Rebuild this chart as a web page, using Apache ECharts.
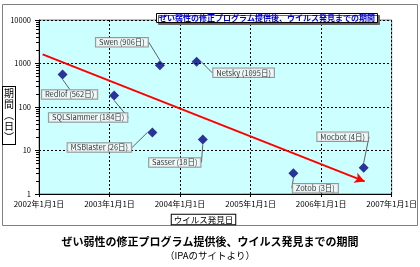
<!DOCTYPE html>
<html><head><meta charset="utf-8">
<script src="https://cdn.jsdelivr.net/npm/echarts@6/dist/echarts.min.js"></script>
<style>html,body{margin:0;padding:0;background:#fff}#c{width:420px;height:267px}</style>
</head><body><div id="c"></div>
<script>
// ---- data ----
const virusNames = ['Redlof','SQLSlammer','Swen','Netsky','MSBlaster','Sasser','Zotob','Mocbot'];
const discoveryDates = ['2002-05-03','2003-01-25','2003-09-19','2004-03-27','2003-08-11','2004-04-28','2005-08-10','2006-08-09'];
const daysToDiscovery = [562,184,906,1095,26,18,3,4];
const trendStart = ['2002-01-20', 1625];
const trendEnd = ['2006-08-14', 1.95];
const thresholdValue = 35;
const thresholdLabel = '30日';
const xRange = ['2002-01-01','2007-01-01'];
const yRange = [1, 10000];
const chartTitle = 'ぜい弱性の修正プログラム提供後、ウイルス発見までの期間';
const sourceNote = '（IPAのサイトより）';
const xName = 'ウイルス発見日';
const yNameVertical = '期\n間\n︵\n日\n︶';
// label offsets (style)
const labelOffsets = [[7,20],[-26,22],[-38,-23],[47,11],[-53,15],[-28,23],[22,15],[-21,-31]];

const FONT = '"Noto Sans CJK JP", sans-serif';
const chart = echarts.init(document.getElementById('c'), null, {renderer:'canvas'});
const scatterData = virusNames.map((n,i)=>({name:n, value:[discoveryDates[i], daysToDiscovery[i]]}));
const fmtDate = v => { const d = new Date(v); return d.getFullYear()+'年'+(d.getMonth()+1)+'月'+d.getDate()+'日'; };

chart.setOption({
  animation:false,
  backgroundColor:'#fff',
  textStyle:{fontFamily:FONT},
  title:[
    {text:chartTitle, left:156, top:13, padding:[1,3,1,3],
     backgroundColor:'#fff', borderColor:'#000', borderWidth:1,
     shadowColor:'#666', shadowOffsetX:2, shadowOffsetY:2, shadowBlur:0,
     textStyle:{color:'#0000cc', fontSize:8, fontWeight:'bold', fontFamily:FONT}, z:10},
    {text:chartTitle, left:'center', top:236, padding:0,
     textStyle:{color:'#000', fontSize:11, fontWeight:'bold', fontFamily:FONT}},
    {text:sourceNote, left:'center', top:251, padding:0,
     textStyle:{color:'#000', fontSize:9.5, fontWeight:'normal', fontFamily:FONT}}
  ],
  grid:{left:39, right:28, top:20, bottom:73, show:true, backgroundColor:'#ccffff', borderColor:'#808080', borderWidth:1},
  xAxis:{type:'time', min:xRange[0], max:xRange[1], splitNumber:5,
    axisLine:{show:true, lineStyle:{color:'#000'}},
    axisTick:{show:true, length:3, lineStyle:{color:'#000'}},
    axisLabel:{formatter:fmtDate, color:'#000', fontSize:8, margin:6, showMinLabel:true, showMaxLabel:true, fontFamily:FONT, hideOverlap:false},
    splitLine:{show:true, lineStyle:{color:'#000', type:[2,2], width:1}}
  },
  yAxis:{type:'log', logBase:10, min:yRange[0], max:yRange[1],
    axisLine:{show:true, lineStyle:{color:'#000'}},
    axisTick:{show:true, length:4, lineStyle:{color:'#000'}},
    minorTick:{show:true, splitNumber:9, length:3, lineStyle:{color:'#000'}},
    axisLabel:{color:'#000', fontSize:7.5, margin:8, fontFamily:FONT, formatter:v=>String(Math.round(v))},
    splitLine:{show:true, lineStyle:{color:'#000', type:[2,2], width:1}}
  },
  graphic:[
    {type:'rect', shape:{x:2.5,y:4.5,width:415,height:221}, style:{fill:'none', stroke:'#808080', lineWidth:1}, silent:true},
    {type:'text', x:9, y:115.5, style:{text:yNameVertical, font:'10px '+FONT, fill:'#000',
      align:'center', verticalAlign:'middle', lineHeight:11, backgroundColor:'#fff', borderColor:'#000', borderWidth:1, padding:[1,1,1,1]}},
    {type:'text', x:203.5, y:219.5, style:{text:xName, font:'8.5px '+FONT, fill:'#000',
      align:'center', verticalAlign:'middle', backgroundColor:'#fff', borderColor:'#000', borderWidth:1, padding:[1,2,0,2]}}
  ],
  series:[
    {type:'scatter', data:scatterData, symbol:'diamond', symbolSize:10,
     itemStyle:{color:'#000080'}, z:5,
     label:{show:true, position:'inside', formatter:p=>p.name+' ('+p.value[1]+'日)', fontSize:7.5, color:'#000', fontFamily:FONT,
       backgroundColor:'#f6f6f6', borderColor:'#808080', borderWidth:1, padding:[1,3,0,3]},
     labelLayout:p=>({dx:labelOffsets[p.dataIndex][0], dy:labelOffsets[p.dataIndex][1]}),
     labelLine:{show:true, lineStyle:{color:'#606060', width:1}},
     markLine:{silent:true, symbol:['none','arrow'], symbolSize:[8,10],
       data:[
         [{coord:trendStart, lineStyle:{color:'#ff0000', width:2, type:'solid'}, label:{show:false}}, {coord:trendEnd}],
         [{yAxis:thresholdValue, symbol:'none', lineStyle:{color:'#339933', width:1.5, type:'solid'},
           label:{show:true, position:'end', formatter:thresholdLabel, color:'#339933', fontSize:8, distance:3}},
          {yAxis:thresholdValue, symbol:'none'}]
       ]}
    }
  ]
});
</script></body></html>
